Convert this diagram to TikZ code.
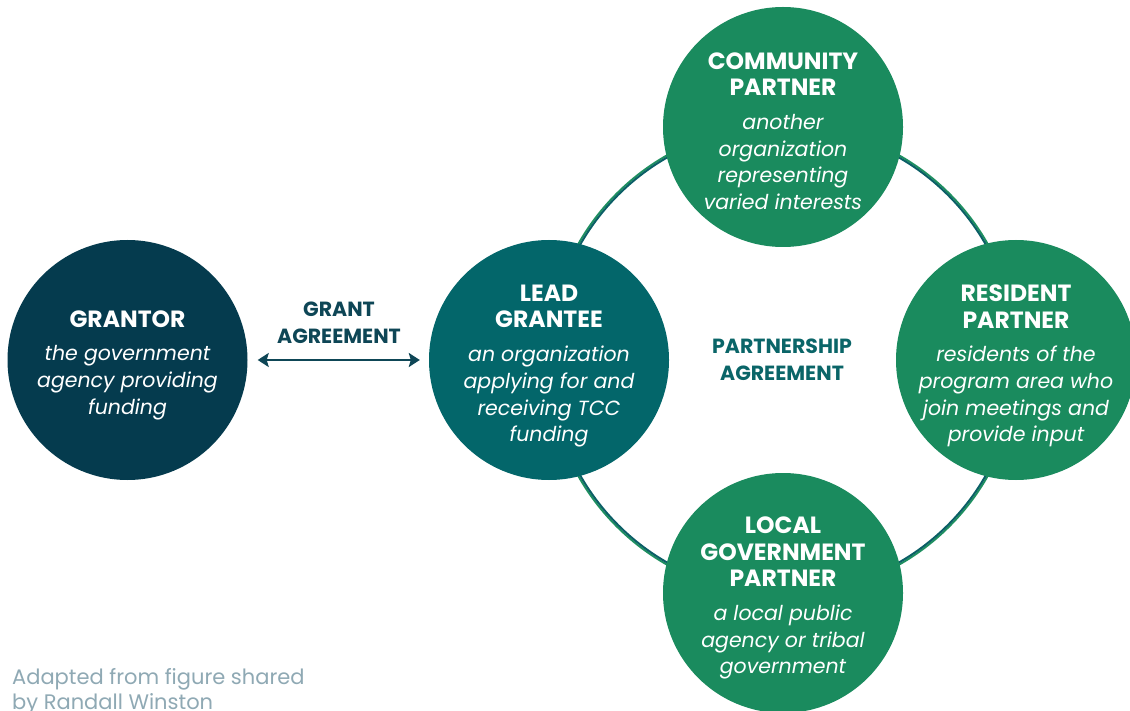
\documentclass[tikz,border=0pt]{standalone}
\usepackage{fontspec}
\setmainfont{Poppins}
\usetikzlibrary{arrows.meta}
\definecolor{navy}{HTML}{053B4E}
\definecolor{leadteal}{HTML}{03666A}
\definecolor{partgreen}{HTML}{1A8B5E}
\definecolor{ringgreen}{HTML}{1E8F60}
\definecolor{ringteal}{HTML}{0B5F66}
\definecolor{labnavy}{HTML}{0E4656}
\definecolor{labteal}{HTML}{0A6568}
\definecolor{notegray}{HTML}{8FA9B4}
\tikzset{
  circ/.style={circle, minimum size=240pt, inner sep=0pt},
  ctext/.style={text=white, align=center, inner sep=0pt,
    font=\fontsize{20.5}{26.7}\selectfont},
  lab/.style={align=center, font=\bfseries\fontsize{20.5}{27}\selectfont},
}
\newcommand{\hd}[1]{{\bfseries\fontsize{23.5}{26.7}\selectfont #1}}
\newcommand{\ds}[1]{{\itshape #1}}
\begin{document}
\begin{tikzpicture}[x=1pt,y=-1pt]
\useasboundingbox (0,0) rectangle (1130,711);
\clip (0,0) rectangle (1130,711);
\fill[white] (0,0) rectangle (1130,711);
% ring (two-tone)
\coordinate (ringc) at (783,360);
\draw[ringgreen, line width=2pt] (ringc) circle (235.2);
\draw[ringteal, line width=2pt] (ringc) circle (233.3);
% circles
\node[circ, fill=navy] (grantor) at (127.5,360) {};
\node[circ, fill=leadteal] (lead) at (549,360) {};
\node[circ, fill=partgreen] (comm) at (783,127) {};
\node[circ, fill=partgreen] (res) at (1016,360) {};
\node[circ, fill=partgreen] (local) at (783,593) {};
\node[ctext] (grantortxt) at ([yshift=-5pt]grantor.center)
  {\hd{GRANTOR}\\[7pt]\ds{the government}\\\ds{agency providing}\\\ds{funding}};
\node[ctext] (leadtxt) at ([yshift=-6pt]lead.center)
  {\hd{LEAD}\\\hd{GRANTEE}\\[7pt]\ds{an organization}\\\ds{applying for and}\\\ds{receiving TCC}\\\ds{funding}};
\node[ctext] (commtxt) at ([yshift=-4pt]comm.center)
  {\hd{COMMUNITY}\\\hd{PARTNER}\\[7pt]\ds{another}\\\ds{organization}\\\ds{representing}\\\ds{varied interests}};
\node[ctext] (restxt) at ([yshift=-6pt]res.center)
  {\hd{RESIDENT}\\\hd{PARTNER}\\[7pt]\ds{residents of the}\\\ds{program area who}\\\ds{join meetings and}\\\ds{provide input}};
\node[ctext] (localtxt) at ([yshift=-5pt]local.center)
  {\hd{LOCAL}\\\hd{GOVERNMENT}\\\hd{PARTNER}\\[7pt]\ds{a local public}\\\ds{agency or tribal}\\\ds{government}};
% grant agreement
\draw[labnavy, line width=2.5pt, {Stealth[length=11pt,width=14pt,inset=2pt]}-{Stealth[length=11pt,width=14pt,inset=2pt]},
  shorten <=10pt, shorten >=9pt] (grantor) -- (lead);
\node[lab, text=labnavy] (grantlab) at (339,323) {GRANT\\AGREEMENT};
\node[lab, text=labteal] (partlab) at (782,360) {PARTNERSHIP\\AGREEMENT};
% note
\node[anchor=north west, align=left, text=notegray, inner sep=0pt,
  font=\fontsize{21}{25}\selectfont] (note) at (12,668) {Adapted from figure shared\\by Randall Winston};
\end{tikzpicture}
\end{document}
